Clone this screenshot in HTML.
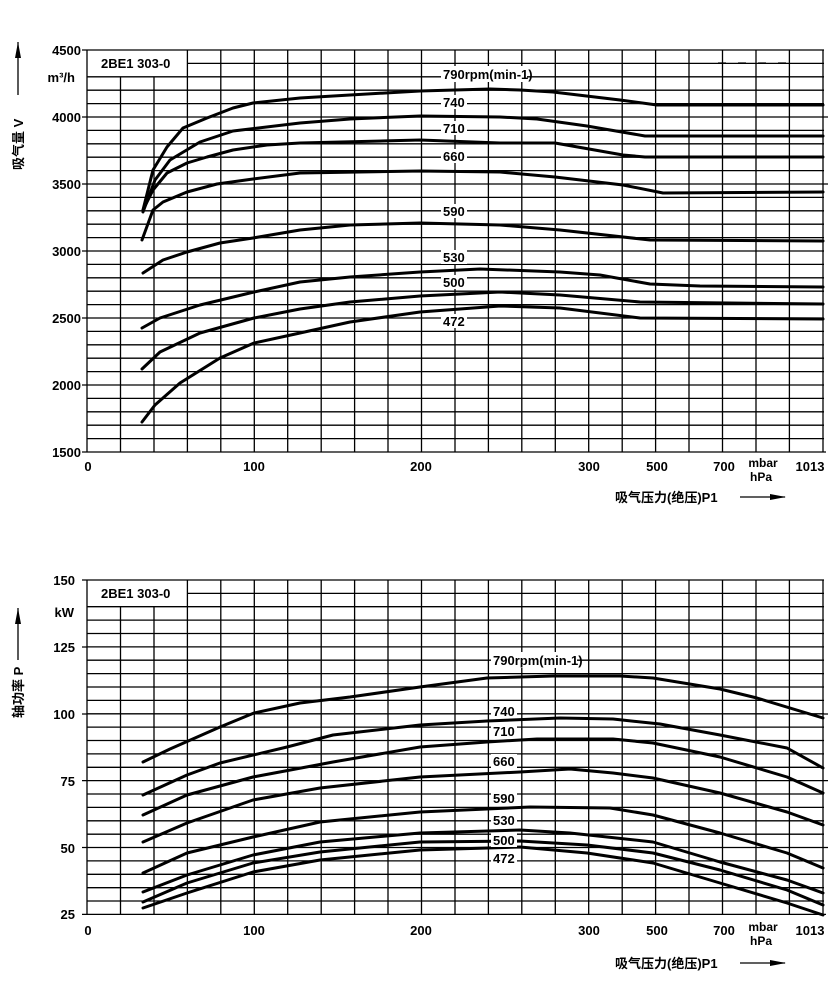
<!DOCTYPE html>
<html><head><meta charset="utf-8"><style>
html,body{margin:0;padding:0;background:#fff}
svg{display:block}
text{font-family:"Liberation Sans","Noto Sans CJK SC",sans-serif;font-weight:bold;fill:#000}
</style></head><body>
<svg width="838" height="1008" viewBox="0 0 838 1008" xmlns="http://www.w3.org/2000/svg">
<g stroke="#000" stroke-width="1.3" fill="none" id="g1">
<path d="M87,50H824 M87,76.8H824 M87,90.2H824 M87,103.6H824 M87,117H824 M87,130.4H824 M87,143.8H824 M87,157.2H824 M87,170.6H824 M87,184H824 M87,197.4H824 M87,210.8H824 M87,224.2H824 M87,237.6H824 M87,251H824 M87,264.4H824 M87,277.8H824 M87,291.2H824 M87,304.6H824 M87,318H824 M87,331.4H824 M87,344.8H824 M87,358.2H824 M87,371.6H824 M87,385H824 M87,398.4H824 M87,411.8H824 M87,425.2H824 M87,438.6H824 M87,452H826 M187,63.4H824"/>
<path d="M87,50V452 M120.5,77V452 M154,77V452 M187.4,50V452 M220.8,50V452 M254.3,50V452 M287.7,50V452 M321.2,50V452 M354.6,50V452 M388,50V452 M421.5,50V452 M455,50V452 M488.4,50V452 M521.8,50V452 M555.3,50V452 M588.7,50V452 M622.2,50V452 M655.6,50V452 M689,50V452 M722.5,50V452 M756,50V452 M789.4,50V452 M823,50V452"/>
<path d="M82,50H87 M82,117H87 M82,184H87 M82,251H87 M82,318H87 M82,385H87 M82,452H87 M824,117H828 M824,184H828"/>
<path d="M718,63H790" stroke-dasharray="8 12"/>
</g>
<g stroke="#000" stroke-width="1.3" fill="none">
<path d="M87,580H824 M87,606.7H824 M87,620.1H824 M87,633.5H824 M87,646.9H824 M87,660.2H824 M87,673.6H824 M87,687H824 M87,700.4H824 M87,713.8H824 M87,727.1H824 M87,740.5H824 M87,753.9H824 M87,767.3H824 M87,780.6H824 M87,794H824 M87,807.4H824 M87,820.8H824 M87,834.2H824 M87,847.5H824 M87,860.9H824 M87,874.3H824 M87,887.7H824 M87,901H824 M87,914.4H826 M187,593.4H824"/>
<path d="M87,580V914 M120.5,607V914 M154,607V914 M187.4,580V914 M220.8,580V914 M254.3,580V914 M287.7,580V914 M321.2,580V914 M354.6,580V914 M388,580V914 M421.5,580V914 M455,580V914 M488.4,580V914 M521.8,580V914 M555.3,580V914 M588.7,580V914 M622.2,580V914 M655.6,580V914 M689,580V914 M722.5,580V914 M756,580V914 M789.4,580V914 M823,580V914"/>
<path d="M82,580H87 M82,647H87 M82,714H87 M82,780.6H87 M82,847.5H87 M82,914.4H87 M824,714H828 M824,780.6H828 M824,847.5H828"/>
</g>
<g stroke="#000" stroke-width="3" fill="none" stroke-linejoin="round" stroke-linecap="round">
<polyline points="143,210 153,170 167,147 183,128 207,118 233,108 253,103 300,98 350,95 420,91 490,89 520,90 553,92 620,100 657,105 823,105"/>
<polyline points="143,212 155,180 170,160 200,142 233,131 300,123 350,119 420,116 500,117 537,119 587,126 645,136 823,136"/>
<polyline points="143,210 153,190 167,173 187,163 207,157 233,150 267,145 300,143 420,140 500,143 555,143 623,155 645,157 823,157"/>
<polyline points="142,240 153,210 163,202 187,192 217,184 253,179 300,173 420,171 500,172 555,177 623,185 663,193 823,192"/>
<polyline points="143,273 163,260 187,252 220,243 253,238 300,230 350,225 420,223 500,225 560,230 650,240 823,241"/>
<polyline points="142,328 160,318 200,305 254,292 300,282 350,277 420,272 480,269 560,272 600,275 650,284 700,286 823,287"/>
<polyline points="142,369 160,352 200,333 254,318 300,309 350,302 420,296 500,292 560,295 640,302 823,304"/>
<polyline points="142,422 155,405 180,383 220,358 254,343 300,333 350,322 420,312 500,306 560,308 640,318 823,319"/>

<polyline points="143,762 170,749 220,727 254,713 300,703 350,697 420,687 487,678 553,676 620,676 653,678 720,689 757,698 823,718"/>
<polyline points="143,795 187,775 220,763 287,747 333,735 420,725 487,721 560,718 613,719 660,724 720,735 787,748 823,768"/>
<polyline points="143,815 187,795 253,777 333,762 420,747 487,742 537,739 613,739 653,743 720,757 787,777 823,793"/>
<polyline points="143,842 187,823 253,800 320,788 420,777 520,772 570,769 613,773 653,778 720,793 787,812 823,825"/>
<polyline points="143,873 187,853 253,837 320,822 420,812 530,807 610,808 653,815 720,833 787,853 823,868"/>
<polyline points="143,892 187,875 253,855 320,842 420,833 520,830 570,833 653,842 720,862 787,880 823,893"/>
<polyline points="143,902 187,883 253,863 320,852 420,842 520,841 587,845 653,853 720,870 787,890 823,905"/>
<polyline points="143,908 187,893 253,872 320,860 420,850 520,847 587,853 653,863 720,883 787,903 823,915"/>
</g>
<g fill="#fff">
<rect x="88" y="51" width="98" height="25"/>
<rect x="88" y="581" width="98" height="25"/>
<rect x="441" y="66" width="86" height="16"/>
<rect x="441" y="95" width="26" height="14"/>
<rect x="441" y="121" width="26" height="14"/>
<rect x="441" y="149" width="26" height="14"/>
<rect x="441" y="204" width="26" height="14"/>
<rect x="441" y="250" width="26" height="14"/>
<rect x="441" y="275" width="26" height="14"/>
<rect x="441" y="314" width="26" height="14"/>
<rect x="491" y="652" width="86" height="16"/>
<rect x="491" y="704" width="26" height="14"/>
<rect x="491" y="724" width="26" height="14"/>
<rect x="491" y="754" width="26" height="14"/>
<rect x="491" y="791" width="26" height="14"/>
<rect x="491" y="813" width="26" height="14"/>
<rect x="491" y="833" width="26" height="14"/>
<rect x="491" y="851" width="26" height="14"/>
</g>
<g font-size="13">
<text x="101" y="68">2BE1 303-0</text>
<text x="101" y="598">2BE1 303-0</text>
<text x="443" y="79">790rpm(min-1)</text>
<text x="443" y="107">740</text><text x="443" y="133">710</text><text x="443" y="161">660</text>
<text x="443" y="216">590</text><text x="443" y="262">530</text><text x="443" y="287">500</text><text x="443" y="326">472</text>
<text x="493" y="665">790rpm(min-1)</text>
<text x="493" y="716">740</text><text x="493" y="736">710</text><text x="493" y="766">660</text>
<text x="493" y="803">590</text><text x="493" y="825">530</text><text x="493" y="845">500</text><text x="493" y="863">472</text>
</g>
<g font-size="13" text-anchor="end">
<text x="81" y="55">4500</text><text x="81" y="122">4000</text><text x="81" y="189">3500</text><text x="81" y="256">3000</text><text x="81" y="323">2500</text><text x="81" y="390">2000</text><text x="81" y="457">1500</text>
<text x="75" y="82">m³/h</text>
<text x="75" y="585">150</text><text x="75" y="652">125</text><text x="75" y="719">100</text><text x="75" y="786">75</text><text x="75" y="853">50</text><text x="75" y="919">25</text>
<text x="74" y="617">kW</text>
</g>
<g font-size="13" text-anchor="middle">
<text x="88" y="471">0</text><text x="254" y="471">100</text><text x="421" y="471">200</text><text x="589" y="471">300</text><text x="657" y="471">500</text><text x="724" y="471">700</text><text x="810" y="471">1013</text>
<text x="763" y="467" font-size="12">mbar</text><text x="761" y="481" font-size="12">hPa</text>
<text x="88" y="935">0</text><text x="254" y="935">100</text><text x="421" y="935">200</text><text x="589" y="935">300</text><text x="657" y="935">500</text><text x="724" y="935">700</text><text x="810" y="935">1013</text>
<text x="763" y="931" font-size="12">mbar</text><text x="761" y="945" font-size="12">hPa</text>
</g>
<text x="615" y="502" font-size="13">吸气压力(绝压)P1</text>
<text x="615" y="968" font-size="13">吸气压力(绝压)P1</text>
<g stroke="#000" stroke-width="1.3">
<path d="M740,497H785 M740,963H785 M18,42V95 M18,608V660"/>
</g>
<g fill="#000">
<path d="M770,494L786,497L770,500Z M770,960L786,963L770,966Z M15,58L18,42L21,58Z M15,624L18,608L21,624Z"/>
</g>
<text transform="translate(23,170) rotate(-90)" font-size="13">吸气量 V</text>
<text transform="translate(23,718) rotate(-90)" font-size="13">轴功率 P</text>
</svg>
</body></html>
